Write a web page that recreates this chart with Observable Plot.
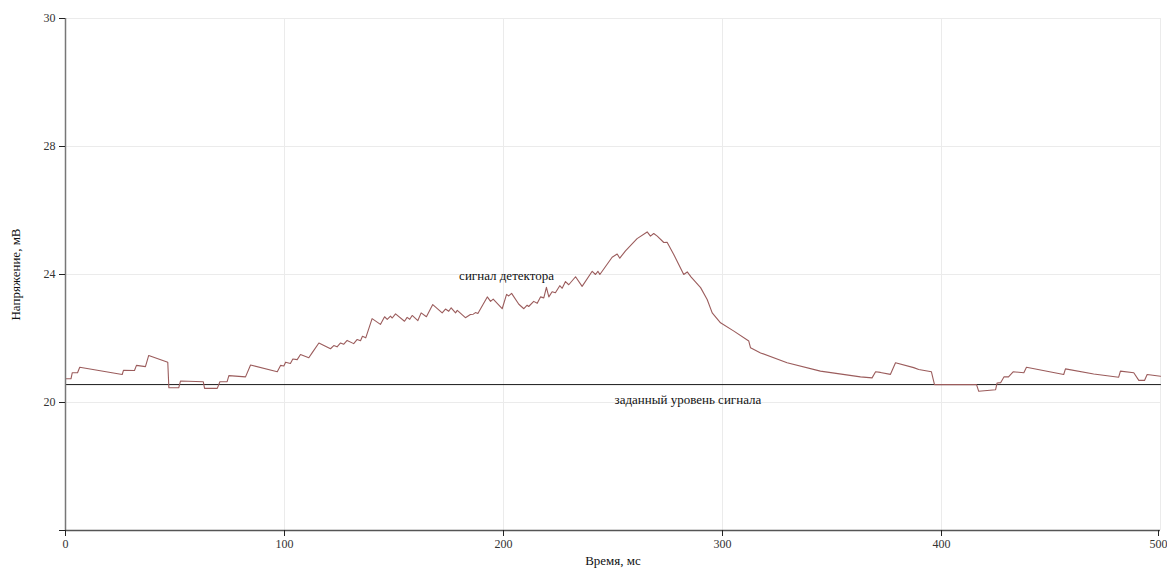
<!DOCTYPE html>
<html>
<head>
<meta charset="utf-8">
<script src="https://cdn.jsdelivr.net/npm/d3@7"></script>
<script src="https://cdn.jsdelivr.net/npm/@observablehq/plot@0.6"></script>
<style>
  html, body { margin: 0; padding: 0; background: #fff; }
  #chart svg { display: block; }
</style>
</head>
<body>
<div id="chart"></div>
<script>
// ---- data ----
const time = [0,2.5,3.1,5.5,6.5,25.9,26.5,31.5,32.4,36.5,38,46.7,47.2,51.7,52.5,62.9,63.5,69.3,70.5,73.8,74.6,82.2,84.5,96.7,98.2,99.7,100.5,102.7,103.8,105.8,107.3,111.1,112.6,115.7,121,122.5,124,125.6,127,128.6,131.6,133.2,134.7,135.6,137.1,
  140.0,143.8,145.7,146.9,148.4,149.2,150.7,154.8,156.0,157.2,158.3,160.9,162.4,164.8,167.7,172.0,173.5,175.0,176.1,178.1,178.9,182.6,184.9,186.2,187.2,188.3,192.6,194.1,195.3,199.4,201.4,202.4,203.7,207.0,209.3,210.8,211.5,213.8,215.4,216.9,218.4,219.6,220.7,222.2,223.7,225.7,226.8,228.3,229.8,232.9,235.9,240.5,242.0,243.1,244.0,249.6,251.9,253.1,255.7,261.0,265.6,267.1,268.6,270.2,273.2,274.7,277.8,282.3,283.9,285.7,290.0,293.0,295.3,299.1,305.2,312.0,312.8,317.4,329.5,344.7,363.0,368.3,369.9,372.1,376.7,379.0,387.3,389.6,395.4,396.8,416.0,417.0,424.7,425.4,427,428.5,430.6,432.7,437.6,438.8,455.8,456.6,469.5,480.9,481.7,487.8,490.1,492.7,493.9,500];
const signal = [20.74,20.74,20.93,20.93,21.10,20.875,21.01,21.0,21.16,21.12,21.47,21.26,20.46,20.46,20.67,20.65,20.44,20.44,20.65,20.65,20.84,20.80,21.17,20.96,21.16,21.14,21.26,21.22,21.36,21.34,21.5,21.40,21.55,21.86,21.68,21.78,21.74,21.86,21.82,21.94,21.84,21.97,21.93,22.07,22.02,
  22.62,22.44,22.68,22.6,22.7,22.64,22.77,22.54,22.66,22.6,22.72,22.56,22.8,22.68,23.06,22.80,22.92,22.85,22.96,22.80,22.88,22.65,22.75,22.76,22.81,22.78,23.30,23.16,23.23,22.93,23.38,23.33,23.41,23.07,22.93,23.04,23.0,23.16,23.1,23.3,23.27,23.6,23.3,23.46,23.43,23.65,23.57,23.78,23.68,23.93,23.63,24.1,24.0,24.1,24.0,24.54,24.64,24.51,24.74,25.12,25.33,25.2,25.28,25.2,25.0,25.01,24.62,24.0,24.08,23.92,23.59,23.22,22.8,22.49,22.23,21.92,21.71,21.55,21.24,20.98,20.80,20.77,20.96,20.94,20.88,21.24,21.09,21.03,20.96,20.56,20.56,20.35,20.40,20.61,20.62,20.8,20.8,20.96,20.93,21.10,20.875,21.05,20.89,20.79,20.98,20.93,20.69,20.69,20.875,20.82];
const levelValue = 20.56;
const xTicks = [0, 100, 200, 300, 400, 500];
const yTicks = [16, 20, 24, 28, 30];
const yTickLabels = ["", "20", "24", "28", "30"];
const labels = [
  {t: 201.4, v: 23.95, text: "сигнал детектора"},
  {t: 284.2, v: 20.09, text: "заданный уровень сигнала"}
];

const series = time.map((t, i) => ({t, v: signal[i]}));
const levelLine = [{t: 0, v: levelValue}, {t: 500, v: levelValue}];

const chart = Plot.plot({
  width: 1167,
  height: 569,
  marginLeft: 65,
  marginRight: 7,
  marginTop: 18,
  marginBottom: 39,
  style: {fontFamily: "'Liberation Serif', 'Times New Roman', serif", fontSize: "12px", background: "#fff"},
  x: {type: "linear", domain: [0, 500]},
  y: {type: "linear", domain: [16, 20, 24, 28, 30]},
  marks: [
    Plot.gridX(xTicks.slice(1), {stroke: "#ebebeb", strokeOpacity: 1}),
    Plot.gridY(yTicks.slice(1), {stroke: "#ebebeb", strokeOpacity: 1}),
    Plot.line(levelLine, {x: "t", y: "v", stroke: "#1a1a1a", strokeWidth: 1}),
    Plot.line(series, {x: "t", y: "v", stroke: "#9b5c5c", strokeWidth: 1.1}),
    Plot.ruleX([0], {stroke: "#777", strokeWidth: 1.5}),
    Plot.ruleY([16], {stroke: "#555", strokeWidth: 1.5}),
    Plot.axisX(xTicks.slice(0, -1), {tickSize: 6, tickPadding: 3, label: null, stroke: "#222", fill: "#333", fontSize: 12}),
    Plot.axisX(xTicks.slice(-1), {tickSize: 6, tickPadding: 3, label: null, stroke: "#222", fill: "#333", fontSize: 12, dx: -2}),
    Plot.axisY(yTicks, {tickSize: 6, tickPadding: 4, label: null, stroke: "#222", fill: "#333", fontSize: 12,
      tickFormat: (d) => yTickLabels[yTicks.indexOf(d)]}),
    Plot.text(labels, {x: "t", y: "v", text: "text", fill: "#111", fontSize: 13}),
    Plot.text(["Напряжение, мВ"], {frameAnchor: "left", textAnchor: "middle", lineAnchor: "middle", dx: -50, rotate: -90, fill: "#111", fontSize: 13}),
    Plot.text(["Время, мс"], {frameAnchor: "bottom", lineAnchor: "middle", dy: 30, fill: "#111", fontSize: 13})
  ]
});
document.getElementById("chart").appendChild(chart);
</script>
</body>
</html>
